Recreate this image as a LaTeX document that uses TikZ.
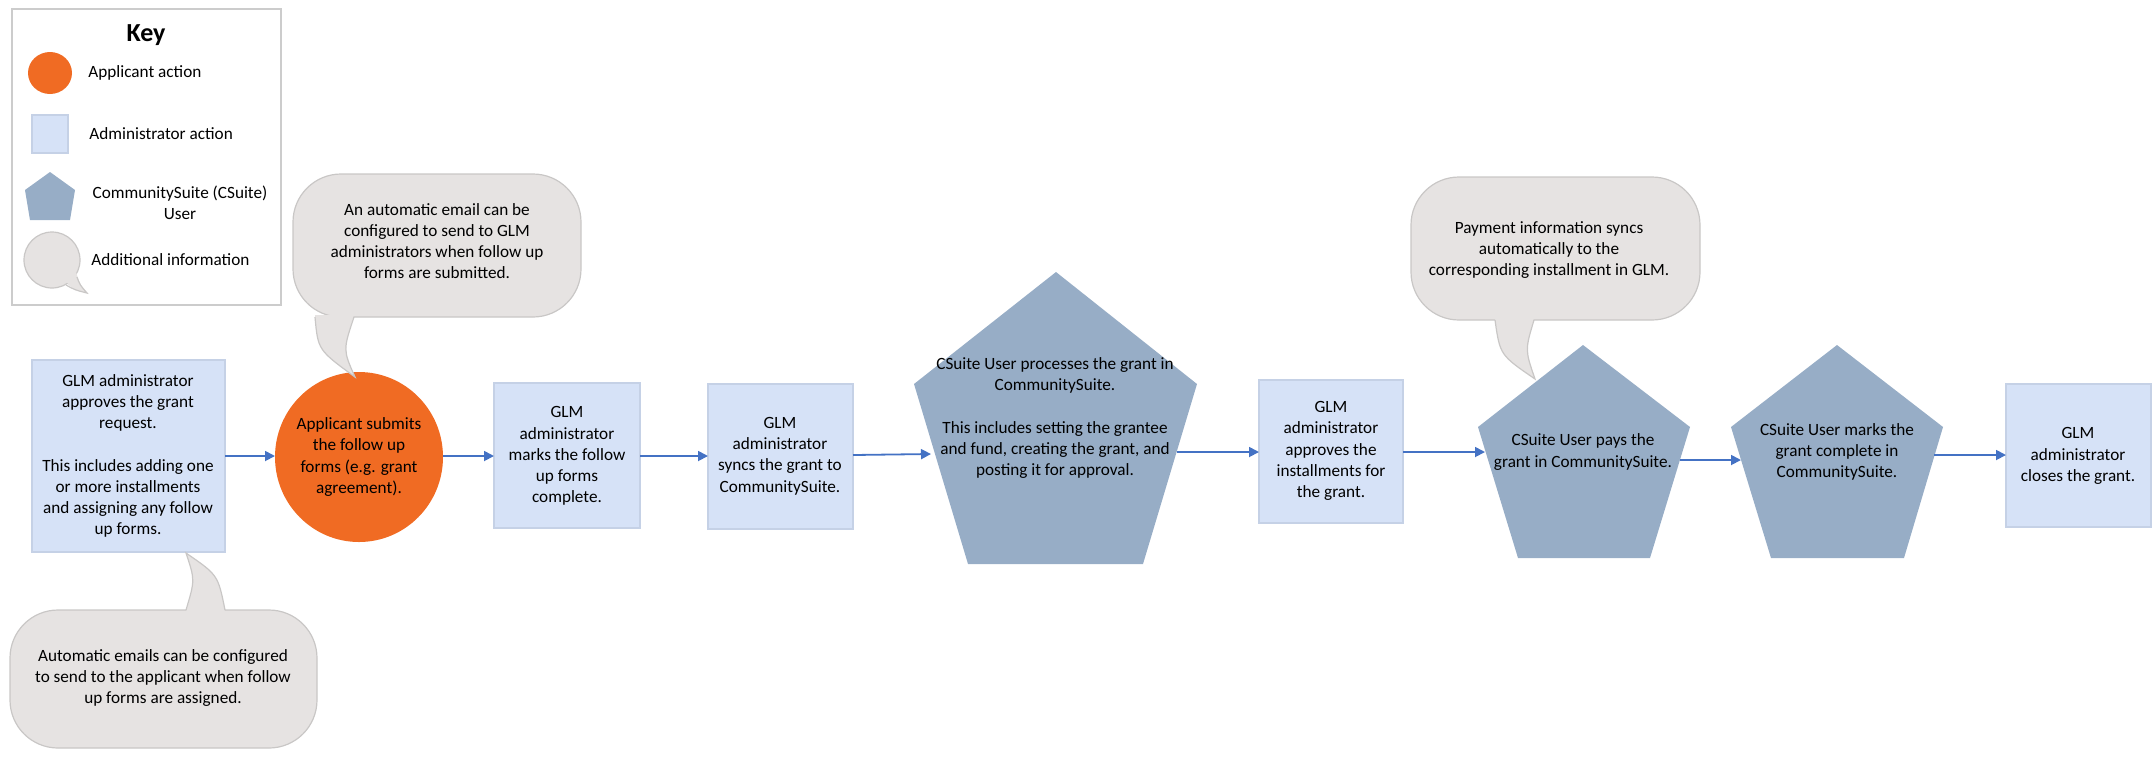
\documentclass[tikz,border=0pt]{standalone}
\usepackage{fontspec}
\setmainfont{Carlito}
\usetikzlibrary{arrows.meta}
\definecolor{orangeA}{HTML}{F06B23}
\definecolor{adminF}{HTML}{D6E2F7}
\definecolor{adminD}{HTML}{C5D1E6}
\definecolor{pentF}{HTML}{97ADC6}
\definecolor{bubF}{HTML}{E6E3E2}
\definecolor{bubD}{HTML}{C9C7C6}
\definecolor{arr}{HTML}{4472C4}
\tikzset{
 txt/.style={align=center,font=\fontsize{8.6}{10.6}\selectfont,text=black,inner sep=0pt},
 admin/.style={fill=adminF,draw=adminD,line width=0.6pt},
 pent/.style={fill=pentF,draw=none},
 bub/.style={fill=bubF,draw=bubD,line width=0.6pt},
 flow/.style={draw=arr,line width=0.9pt,-{Triangle[length=5pt,width=5pt]}}
}
\begin{document}
\begin{tikzpicture}[x=0.5pt,y=-0.5pt]
\useasboundingbox (0,0) rectangle (2154,757);
% Key
\draw[draw=black!20,line width=0.6pt] (12,9) rectangle (281,305);
\node[font=\fontsize{13}{15}\selectfont\bfseries] (keyt) at (146,35) {Key};
\fill[orangeA] (50,73) ellipse [x radius=22,y radius=21];
\node[txt,anchor=west] (k1) at (88,73) {Applicant action};
\draw[admin] (32,115) rectangle (68,153);
\node[txt,anchor=west] (k2) at (89,134) {Administrator action};
\fill[pentF] (50,172) -- (75,190) -- (70,220) -- (30,220) -- (25,190) -- cycle;
\node[txt] (k3) at (180,203) {CommunitySuite (CSuite)\\User};
\fill[bubF] (66,283) .. controls (75,290) .. (87,293) .. controls (80,285) .. (76,278) -- cycle;
\draw[bubD,fill=bubF,line width=0.6pt] (52,260) ellipse [x radius=28,y radius=28];
\fill[bubF] (64,280) .. controls (75,290) .. (87,293) .. controls (80,285) .. (76,272) -- cycle;
\draw[bubD,line width=0.6pt] (66,285) .. controls (75,290) .. (87,293) .. controls (80,285) .. (77,277);
\node[txt,anchor=west] (k4) at (91,260) {Additional information};

% Flow nodes
\draw[admin] (32,360) rectangle (225,552);
\node[txt] (b1) at (128,456) {GLM administrator\\approves the grant\\request.\\[10.6pt]This includes adding one\\or more installments\\and assigning any follow\\up forms.};
\coordinate (b1e) at (225,456);
\fill[orangeA] (359,457) ellipse [x radius=84,y radius=85];
\node[txt] (c1) at (359,457) {Applicant submits\\the follow up\\forms (e.g. grant\\agreement).};
\coordinate (c1w) at (275,456);
\coordinate (c1e) at (443,456);
\draw[admin] (494,383) rectangle (640,528);
\node[txt] (b2) at (567,456) {GLM\\administrator\\marks the follow\\up forms\\complete.};
\coordinate (b2w) at (494,456);
\coordinate (b2e) at (640,456);
\draw[admin] (708,384) rectangle (853,529);
\node[txt] (b3) at (780,456) {GLM\\administrator\\syncs the grant to\\CommunitySuite.};
\coordinate (b3w) at (708,456);
\coordinate (b3e) at (853,455);
\fill[pent] (1056,272) -- (1197,384) -- (1143,564) -- (968,564) -- (914,384) -- cycle;
\node[txt] (p1) at (1055,418) {CSuite User processes the grant in\\CommunitySuite.\\[10.6pt]This includes setting the grantee\\and fund, creating the grant, and\\posting it for approval.};
\coordinate (p1w) at (931,454);
\coordinate (p1e) at (1177,452);
\draw[admin] (1259,380) rectangle (1403,523);
\node[txt] (b4) at (1331,451) {GLM\\administrator\\approves the\\installments for\\the grant.};
\coordinate (b4w) at (1259,452);
\coordinate (b4e) at (1403,452);
\fill[pent] (1583,345) -- (1690,427) -- (1650,558) -- (1518,558) -- (1478,427) -- cycle;
\node[txt] (p2) at (1583,452) {CSuite User pays the\\grant in CommunitySuite.};
\coordinate (p2w) at (1485,452);
\coordinate (p2e) at (1680,460);
\fill[pent] (1837,345) -- (1943,427) -- (1904,558) -- (1771,558) -- (1731,427) -- cycle;
\node[txt] (p3) at (1837,452) {CSuite User marks the\\grant complete in\\CommunitySuite.};
\coordinate (p3w) at (1741,460);
\coordinate (p3e) at (1934,455);
\draw[admin] (2006,384) rectangle (2151,527);
\node[txt] (b5) at (2078,456) {GLM\\administrator\\closes the grant.};
\coordinate (b5w) at (2006,455);

\draw[flow] (b1e) -- (c1w);
\draw[flow] (c1e) -- (b2w);
\draw[flow] (b2e) -- (b3w);
\draw[flow] (b3e) -- (p1w);
\draw[flow] (p1e) -- (b4w);
\draw[flow] (b4e) -- (p2w);
\draw[flow] (p2e) -- (p3w);
\draw[flow] (p3e) -- (b5w);

% Callouts
\draw[bub,rounded corners=24] (293,174) rectangle (581,317);
\fill[bubF] (315,315) .. controls (318,350) .. (355,377) .. controls (343,350) .. (354,315) -- cycle;
\draw[bubD,line width=0.6pt] (315,317) .. controls (318,350) .. (355,377) .. controls (343,350) .. (354,317);
\node[txt] (n1) at (437,241) {An automatic email can be\\configured to send to GLM\\administrators when follow up\\forms are submitted.};

\draw[bub,rounded corners=24] (10,610) rectangle (317,748);
\fill[bubF] (225,612) .. controls (218,575) .. (186,553) .. controls (195,580) .. (186,612) -- cycle;
\draw[bubD,line width=0.6pt] (225,610) .. controls (218,575) .. (186,553) .. controls (195,580) .. (186,610);
\node[txt] (n2) at (163,678) {Automatic emails can be configured\\to send to the applicant when follow\\up forms are assigned.};

\draw[bub,rounded corners=24] (1411,177) rectangle (1700,320);
\fill[bubF] (1495,318) .. controls (1500,355) .. (1535,379) .. controls (1525,350) .. (1534,318) -- cycle;
\draw[bubD,line width=0.6pt] (1495,320) .. controls (1500,355) .. (1535,379) .. controls (1525,350) .. (1534,320);
\node[txt] (n3) at (1549,250) {Payment information syncs\\automatically to the\\corresponding installment in GLM.};
\end{tikzpicture}
\end{document}
